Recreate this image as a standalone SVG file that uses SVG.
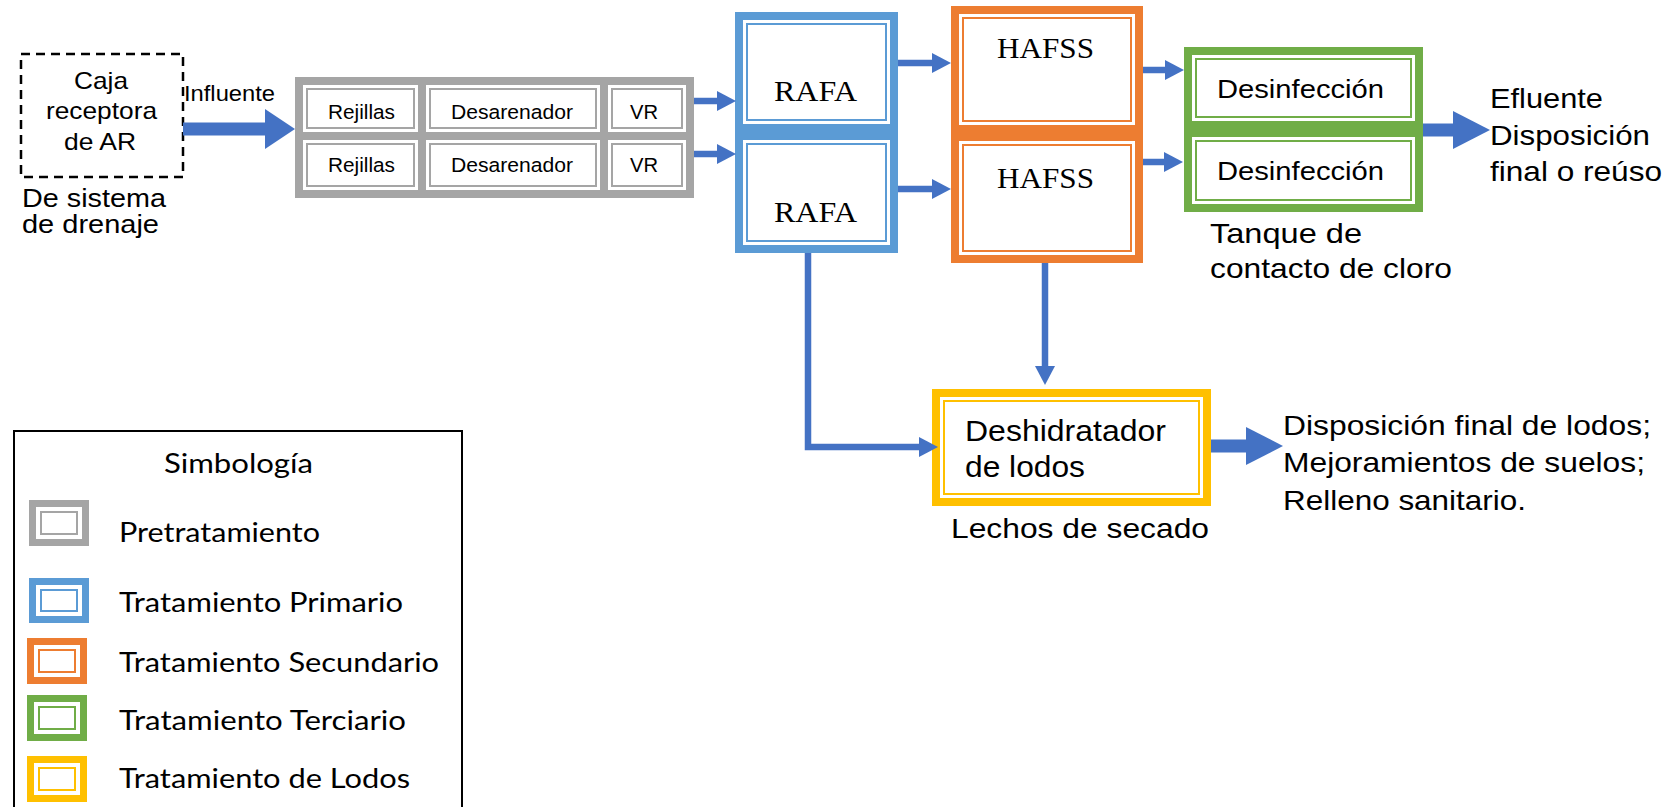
<svg xmlns="http://www.w3.org/2000/svg" width="1673" height="807" viewBox="0 0 1673 807">
  <style>
    text{font-family:"Liberation Sans",Arial,sans-serif;fill:#000}
    .serif{font-family:"Liberation Serif","Times New Roman",serif}
    .leg{font-family:Lato,"Open Sans",sans-serif}
    .o{fill:#fff;stroke-width:8}
    .sw .o{stroke-width:7}
    .i{fill:none;stroke-width:2}
    .gray .o,.gray .i{stroke:#A5A5A5}
    .blue .o,.blue .i{stroke:#5B9BD5}
    .orange .o,.orange .i{stroke:#ED7D31}
    .green .o,.green .i{stroke:#70AD47}
    .gold .o,.gold .i{stroke:#FFC000}
    .flow{fill:none;stroke:#4472C4}
    .thin{stroke-width:6.5}
    .thick{stroke-width:13}
  </style>
  <defs>
    <marker id="hs" markerUnits="userSpaceOnUse" markerWidth="19" markerHeight="20" refX="0" refY="10" orient="auto">
      <path d="M0,0 L19,10 L0,20 Z" fill="#4472C4"/>
    </marker>
    <marker id="hm" markerUnits="userSpaceOnUse" markerWidth="30" markerHeight="40" refX="0" refY="20" orient="auto">
      <path d="M0,0 L30,20 L0,40 Z" fill="#4472C4"/>
    </marker>
    <marker id="hl" markerUnits="userSpaceOnUse" markerWidth="37" markerHeight="38" refX="0" refY="19" orient="auto">
      <path d="M0,0 L37,19 L0,38 Z" fill="#4472C4"/>
    </marker>
  </defs>
  <rect width="1673" height="807" fill="#fff"/>

  <!-- inlet box -->
  <g id="caja">
    <rect x="21" y="54" width="162" height="123" fill="none" stroke="#000" stroke-width="2.5" stroke-dasharray="9 6"/>
    <text x="74" y="89" font-size="24" textLength="54" lengthAdjust="spacingAndGlyphs">Caja</text>
    <text x="46" y="119" font-size="24" textLength="111" lengthAdjust="spacingAndGlyphs">receptora</text>
    <text x="64" y="150" font-size="24" textLength="72" lengthAdjust="spacingAndGlyphs">de AR</text>
  </g>
  <g id="origen">
    <text x="22" y="207" font-size="25" textLength="144" lengthAdjust="spacingAndGlyphs">De sistema</text>
    <text x="22" y="233" font-size="25" textLength="137" lengthAdjust="spacingAndGlyphs">de drenaje</text>
  </g>
  <g id="influente-label">
    <text x="184" y="101" font-size="22" textLength="91" lengthAdjust="spacingAndGlyphs">Influente</text>
  </g>

  <!-- pretreatment trains -->
  <g id="rejillas-1" class="gray">
    <rect class="o" x="299" y="81" width="123" height="55"/>
    <rect class="i" x="307" y="89" width="107" height="39"/>
    <text x="328" y="119" font-size="20.5" textLength="67" lengthAdjust="spacingAndGlyphs">Rejillas</text>
  </g>
  <g id="desarenador-1" class="gray">
    <rect class="o" x="422" y="81" width="182" height="55"/>
    <rect class="i" x="430" y="89" width="166" height="39"/>
    <text x="451" y="119" font-size="20.5" textLength="122" lengthAdjust="spacingAndGlyphs">Desarenador</text>
  </g>
  <g id="vr-1" class="gray">
    <rect class="o" x="604" y="81" width="86" height="55"/>
    <rect class="i" x="612" y="89" width="70" height="39"/>
    <text x="630" y="119" font-size="20.5" textLength="28" lengthAdjust="spacingAndGlyphs">VR</text>
  </g>
  <g id="rejillas-2" class="gray">
    <rect class="o" x="299" y="136" width="123" height="58"/>
    <rect class="i" x="307" y="144" width="107" height="42"/>
    <text x="328" y="172" font-size="20.5" textLength="67" lengthAdjust="spacingAndGlyphs">Rejillas</text>
  </g>
  <g id="desarenador-2" class="gray">
    <rect class="o" x="422" y="136" width="182" height="58"/>
    <rect class="i" x="430" y="144" width="166" height="42"/>
    <text x="451" y="172" font-size="20.5" textLength="122" lengthAdjust="spacingAndGlyphs">Desarenador</text>
  </g>
  <g id="vr-2" class="gray">
    <rect class="o" x="604" y="136" width="86" height="58"/>
    <rect class="i" x="612" y="144" width="70" height="42"/>
    <text x="630" y="172" font-size="20.5" textLength="28" lengthAdjust="spacingAndGlyphs">VR</text>
  </g>

  <!-- primary -->
  <g id="rafa-1" class="blue">
    <rect class="o" x="739" y="16" width="155" height="112"/>
    <rect class="i" x="747" y="24" width="139" height="96"/>
    <text class="serif" x="774" y="101" font-size="30" textLength="83" lengthAdjust="spacingAndGlyphs">RAFA</text>
  </g>
  <g id="rafa-2" class="blue">
    <rect class="o" x="739" y="136" width="155" height="113"/>
    <rect class="i" x="747" y="144" width="139" height="97"/>
    <text class="serif" x="774" y="222" font-size="30" textLength="83" lengthAdjust="spacingAndGlyphs">RAFA</text>
  </g>

  <!-- secondary -->
  <g id="hafss-1" class="orange">
    <rect class="o" x="955" y="10" width="184" height="119"/>
    <rect class="i" x="963" y="18" width="168" height="103"/>
    <text class="serif" x="997" y="58" font-size="30" textLength="97" lengthAdjust="spacingAndGlyphs">HAFSS</text>
  </g>
  <g id="hafss-2" class="orange">
    <rect class="o" x="955" y="137" width="184" height="122"/>
    <rect class="i" x="963" y="145" width="168" height="106"/>
    <text class="serif" x="997" y="188" font-size="30" textLength="97" lengthAdjust="spacingAndGlyphs">HAFSS</text>
  </g>

  <!-- tertiary -->
  <g id="desinfeccion-1" class="green">
    <rect class="o" x="1188" y="51" width="231" height="74"/>
    <rect class="i" x="1196" y="59" width="215" height="58"/>
    <text x="1217" y="98" font-size="26" textLength="167" lengthAdjust="spacingAndGlyphs">Desinfección</text>
  </g>
  <g id="desinfeccion-2" class="green">
    <rect class="o" x="1188" y="133" width="231" height="75"/>
    <rect class="i" x="1196" y="141" width="215" height="59"/>
    <text x="1217" y="180" font-size="26" textLength="167" lengthAdjust="spacingAndGlyphs">Desinfección</text>
  </g>
  <g id="tanque-label">
    <text x="1210" y="243" font-size="28" textLength="152" lengthAdjust="spacingAndGlyphs">Tanque de</text>
    <text x="1210" y="278" font-size="28" textLength="242" lengthAdjust="spacingAndGlyphs">contacto de cloro</text>
  </g>
  <g id="efluente">
    <text x="1490" y="108" font-size="28" textLength="113" lengthAdjust="spacingAndGlyphs">Efluente</text>
    <text x="1490" y="145" font-size="28" textLength="160" lengthAdjust="spacingAndGlyphs">Disposición</text>
    <text x="1490" y="181" font-size="28" textLength="172" lengthAdjust="spacingAndGlyphs">final o reúso</text>
  </g>

  <!-- sludge -->
  <g id="deshidratador" class="gold">
    <rect class="o" x="936" y="393" width="271" height="109"/>
    <rect class="i" x="944" y="401" width="255" height="93"/>
    <text x="965" y="441" font-size="30" textLength="201" lengthAdjust="spacingAndGlyphs">Deshidratador</text>
    <text x="965" y="477" font-size="30" textLength="120" lengthAdjust="spacingAndGlyphs">de lodos</text>
  </g>
  <g id="lechos-label">
    <text x="951" y="538" font-size="28" textLength="258" lengthAdjust="spacingAndGlyphs">Lechos de secado</text>
  </g>
  <g id="destino-lodos">
    <text x="1283" y="435" font-size="28" textLength="368" lengthAdjust="spacingAndGlyphs">Disposición final de lodos;</text>
    <text x="1283" y="472" font-size="28" textLength="362" lengthAdjust="spacingAndGlyphs">Mejoramientos de suelos;</text>
    <text x="1283" y="510" font-size="28" textLength="243" lengthAdjust="spacingAndGlyphs">Relleno sanitario.</text>
  </g>

  <!-- connectors -->
  <g id="connectors" class="flow">
    <path class="thick" d="M183,129 H265" marker-end="url(#hm)"/>
    <path class="thin" d="M694,101 H717" marker-end="url(#hs)"/>
    <path class="thin" d="M694,154 H717" marker-end="url(#hs)"/>
    <path class="thin" d="M898,63 H932" marker-end="url(#hs)"/>
    <path class="thin" d="M898,189 H932" marker-end="url(#hs)"/>
    <path class="thin" d="M1143,70 H1165" marker-end="url(#hs)"/>
    <path class="thin" d="M1143,162 H1164" marker-end="url(#hs)"/>
    <path class="thin" d="M808,253 V447 H919" marker-end="url(#hs)"/>
    <path class="thin" d="M1045,263 V366" marker-end="url(#hs)"/>
    <path class="thick" d="M1423,130 H1453" marker-end="url(#hl)"/>
    <path class="thick" d="M1211,446 H1246" marker-end="url(#hl)"/>
  </g>

  <!-- legend -->
  <g id="simbologia">
    <rect x="14" y="431" width="448" height="400" fill="none" stroke="#000" stroke-width="2"/>
    <text class="leg" x="164" y="473" font-size="27" textLength="149" lengthAdjust="spacingAndGlyphs">Simbología</text>
    <g class="gray sw">
      <rect class="o" x="32.5" y="503.5" width="53" height="39"/>
      <rect class="i" x="41" y="512" width="36" height="22"/>
    </g>
    <text class="leg" x="119" y="542" font-size="27" textLength="201" lengthAdjust="spacingAndGlyphs">Pretratamiento</text>
    <g class="blue sw">
      <rect class="o" x="32.5" y="581.5" width="53" height="38"/>
      <rect class="i" x="41" y="590" width="36" height="21"/>
    </g>
    <text class="leg" x="119" y="612" font-size="27" textLength="284" lengthAdjust="spacingAndGlyphs">Tratamiento Primario</text>
    <g class="orange sw">
      <rect class="o" x="30.5" y="641.5" width="53" height="39"/>
      <rect class="i" x="39" y="650" width="36" height="22"/>
    </g>
    <text class="leg" x="119" y="672" font-size="27" textLength="320" lengthAdjust="spacingAndGlyphs">Tratamiento Secundario</text>
    <g class="green sw">
      <rect class="o" x="30.5" y="698.5" width="53" height="39"/>
      <rect class="i" x="39" y="707" width="36" height="22"/>
    </g>
    <text class="leg" x="119" y="730" font-size="27" textLength="287" lengthAdjust="spacingAndGlyphs">Tratamiento Terciario</text>
    <g class="gold sw">
      <rect class="o" x="30.5" y="759.5" width="53" height="39"/>
      <rect class="i" x="39" y="768" width="36" height="22"/>
    </g>
    <text class="leg" x="119" y="788" font-size="27" textLength="291" lengthAdjust="spacingAndGlyphs">Tratamiento de Lodos</text>
  </g>
</svg>
